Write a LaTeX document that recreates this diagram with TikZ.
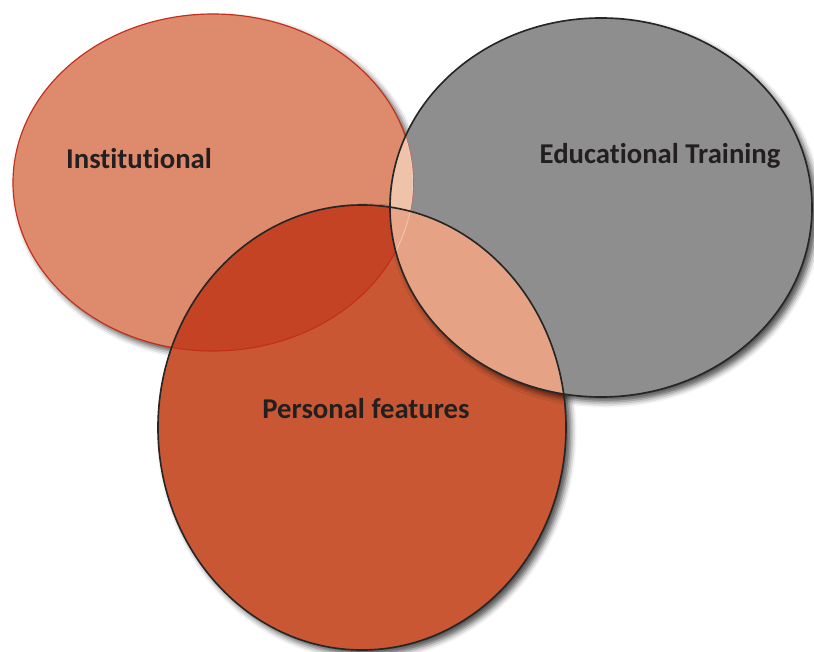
\documentclass[tikz,border=0pt]{standalone}
\usepackage{fontspec}
\setmainfont{Carlito}[Ligatures=NoCommon]
\usetikzlibrary{shadows.blur}
\definecolor{instfill}{HTML}{DE8A6C}
\definecolor{instline}{HTML}{C2301C}
\definecolor{persfill}{HTML}{C95733}
\definecolor{edufill}{HTML}{8E8E8E}
\definecolor{ipfill}{HTML}{C44325}
\definecolor{iefill}{HTML}{EFC2AA}
\definecolor{epfill}{HTML}{E5A285}
\definecolor{iepfill}{HTML}{E8A68A}
\definecolor{darktext}{HTML}{231F20}
\begin{document}
\begin{tikzpicture}[x=0.03cm, y=-0.03cm,
    soft/.style={blur shadow={shadow xshift=4pt, shadow yshift=-4pt, shadow blur radius=5pt, shadow opacity=70}},
    rim/.style={line width=1.4pt, draw=black!85},
    caption/.style={font=\bfseries\fontsize{24.5}{29}\selectfont, text=darktext}]
    \useasboundingbox (0,0) rectangle (814,652);
    \def\inst{(213,182.5) ellipse [x radius=200, y radius=168.5]}
    \def\pers{(362,427.5) ellipse [x radius=204, y radius=222.5]}
    \def\edu{(601,207.5) ellipse [x radius=211, y radius=189.5]}
    % the three sets
    \fill[instfill, soft] \inst;
    \fill[persfill, soft] \pers;
    \fill[edufill, soft] \edu;
    % overlaps
    \begin{scope}
        \clip \inst;
        \fill[ipfill] \pers;
    \end{scope}
    \draw[instline, line width=1pt] \inst;
    \begin{scope}
        \clip \edu;
        \fill[iefill] \inst;
        \fill[epfill] \pers;
        \clip \inst;
        \fill[iepfill] \pers;
    \end{scope}
    \begin{scope}
        \clip \edu;
        \draw[white, opacity=0.35, line width=0.8pt] \inst;
    \end{scope}
    % outlines
    \draw[rim] \pers;
    \draw[rim] \edu;
    % labels
    \node[caption] (institutional) at (139,159) {Institutional};
    \node[caption] (training) at (660,156) {Educational Training};
    \node[caption] (personal) at (366,409) {Personal features};
\end{tikzpicture}
\end{document}
